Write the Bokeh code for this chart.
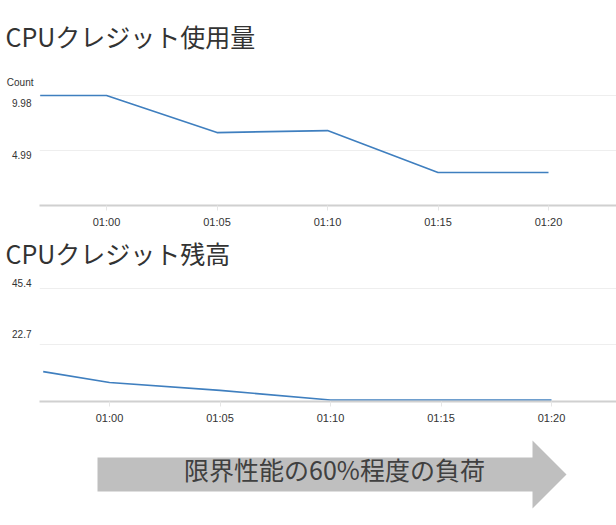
import pandas as pd
from bokeh.plotting import figure
from bokeh.layouts import column, row
from bokeh.models import FixedTicker, DatetimeTickFormatter, Range1d
from bokeh.core.properties import value
from bokeh.embed import file_html
from bokeh.resources import INLINE

# ---------------- data ----------------
DAY = "2017-01-01 "
usage_title = "CPUクレジット使用量"
usage_times = ["00:57", "01:00", "01:05", "01:10", "01:15", "01:20"]
usage_values = [9.98, 9.98, 6.62, 6.80, 2.99, 2.99]
usage_ticks = [9.98, 4.99]
usage_unit = "Count"

balance_title = "CPUクレジット残高"
balance_times = ["00:57", "01:00", "01:05", "01:10", "01:15", "01:20"]
balance_values = [11.7, 7.3, 4.1, 0.2, 0.2, 0.2]
balance_ticks = [45.4, 22.7]

tick_labels = ["01:00", "01:05", "01:10", "01:15", "01:20"]

arrow_text = "限界性能の60%程度の負荷"
arrow_x = [97, 532, 532, 566, 532, 532, 97]
arrow_y = [27, 27, 10, 44, 78, 61, 61]

# ---------------- helpers ----------------
def ts(t):
    return pd.Timestamp(DAY + t)

def ms(t):
    return ts(t).value / 1e6

CJK = "Noto Sans CJK JP"
LAT = "Liberation Sans"
BLUE = "#3f7fbf"
MIN = 60_000.0
px_per_min = 22.1
W = 616


def blank(height):
    p = figure(width=W, height=height,
               x_range=Range1d(0, W), y_range=Range1d(height, 0),
               output_backend="svg", toolbar_location=None,
               x_axis_location=None, y_axis_location=None,
               min_border=0, min_border_left=0, min_border_right=0,
               min_border_top=0, min_border_bottom=0)
    p.grid.visible = False
    p.outline_line_color = None
    p.background_fill_color = "white"
    p.border_fill_color = "white"
    return p


def make_chart(times, values, ticks, label_shift_px, y_start, y_end, height,
               top, bottom, left_off_px):
    x0 = ms("01:00") - left_off_px / px_per_min * MIN
    x1 = ms("01:20") + (577 - 442 - left_off_px) / px_per_min * MIN
    p = figure(width=W, height=height, x_axis_type="datetime",
               x_range=Range1d(x0, x1), y_range=Range1d(y_start, y_end),
               output_backend="svg", toolbar_location=None,
               min_border_left=39, min_border_right=0,
               min_border_top=top, min_border_bottom=bottom)
    p.outline_line_color = None
    p.background_fill_color = "white"
    p.border_fill_color = "white"
    p.line([ts(t) for t in times], values, line_color=BLUE, line_width=1.6)

    p.xgrid.visible = False
    p.ygrid.ticker = FixedTicker(ticks=ticks)
    p.ygrid.grid_line_color = "#eeeeee"
    p.ygrid.grid_line_width = 1

    # y tick labels sit a few pixels off their grid lines in the original
    frame_h = height - top - bottom
    per_px = (y_end - y_start) / frame_h
    label_pos = [round(v + s * per_px, 3) for v, s in zip(ticks, label_shift_px)]
    ya = p.yaxis[0]
    ya.ticker = FixedTicker(ticks=label_pos)
    ya.major_label_overrides = {pos: f"{v:g}" for pos, v in zip(label_pos, ticks)}
    ya.axis_line_color = None
    ya.major_tick_line_color = None
    ya.minor_tick_line_color = None
    ya.major_tick_in = 0
    ya.major_tick_out = 0
    ya.major_label_standoff = 8
    ya.major_label_text_font = LAT
    ya.major_label_text_font_size = "10px"
    ya.major_label_text_color = "#333333"

    xa = p.xaxis[0]
    xa.ticker = FixedTicker(ticks=[ms(t) for t in tick_labels])
    xa.formatter = DatetimeTickFormatter(minutes="%H:%M", hours="%H:%M",
                                         minsec="%H:%M", hourmin="%H:%M")
    xa.axis_line_color = "#d0d0d0"
    xa.axis_line_width = 2
    xa.major_tick_line_color = "#e6e6e6"
    xa.major_tick_in = 0
    xa.major_tick_out = 5
    xa.minor_tick_line_color = None
    xa.major_label_standoff = 5
    xa.major_label_text_font = LAT
    xa.major_label_text_font_size = "11px"
    xa.major_label_text_color = "#333333"
    return p


# title block 1 (y 0..90)
t1 = blank(90)
t1.text(x=[5], y=[35], text=[usage_title], text_font=value(CJK),
        text_font_size="25px", text_color="#333333", text_baseline="middle")
t1.text(x=[33], y=[82], text=[usage_unit], text_font=value(LAT),
        text_font_size="10px", text_color="#333333", text_align="right",
        text_baseline="middle")

# chart 1: frame y 90..205, canvas 90..236
p1 = make_chart(usage_times, usage_values, usage_ticks, [-7, -4],
                y_start=0.0, y_end=10.44, height=146, top=0, bottom=31,
                left_off_px=67)

# title block 2 (y 236..276)
t2 = blank(40)
t2.text(x=[5], y=[16], text=[balance_title], text_font=value(CJK),
        text_font_size="25px", text_color="#333333", text_baseline="middle")

# chart 2: frame y 282..401, canvas 276..430
p2 = make_chart(balance_times, balance_values, balance_ticks, [5, 10],
                y_start=-0.4, y_end=47.8, height=154, top=6, bottom=29,
                left_off_px=70)

# arrow panel (y 430..525)
p3 = blank(95)
p3.patch(arrow_x, arrow_y, fill_color="#bfbfbf", line_color=None)
p3.text(x=[334], y=[38], text=[arrow_text], text_font=value(CJK),
        text_font_size="25px", text_color="#404040",
        text_align="center", text_baseline="middle")

layout = column(row(t1), row(p1), row(t2), row(p2), row(p3), spacing=0)
open("out.html", "w").write(file_html(layout, INLINE))
